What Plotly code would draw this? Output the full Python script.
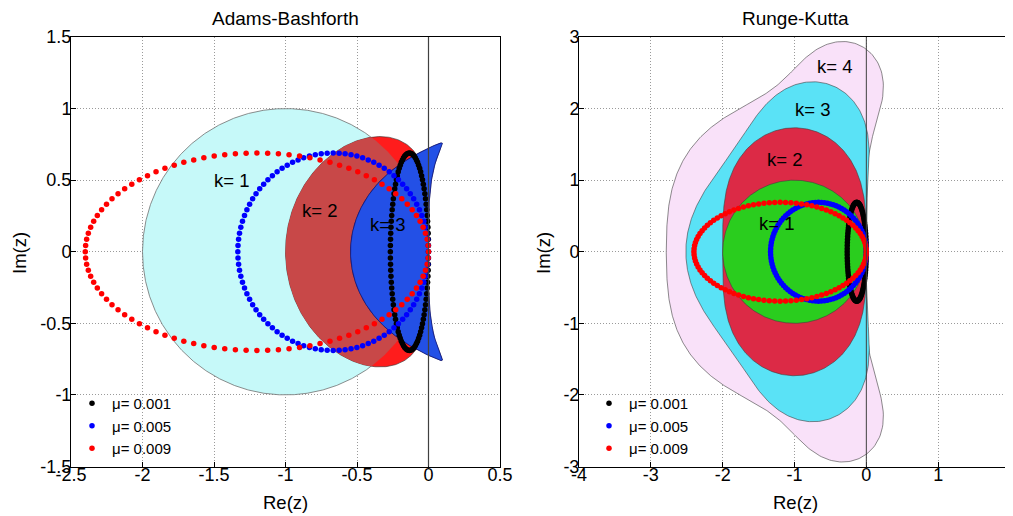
import numpy as np
import plotly.graph_objects as go

# ---------------- data ----------------
mu_values = [0.001, 0.005, 0.009]
mu_labels = ["μ= 0.001", "μ= 0.005", "μ= 0.009"]
dt_over_h2 = 66.67          # time step / h^2
cfl_number = 0.69           # c * dt / h
n_modes = 100               # Fourier modes of the grid

ab1_beta = [1.0]
ab2_beta = [1.5, -0.5]
ab3_beta = [23 / 12, -16 / 12, 5 / 12]
ab_labels = ["k= 1", "k= 2", "k= 3"]

rk_orders = [4, 3, 2, 1]
rk_labels = ["k= 4", "k= 3", "k= 2", "k= 1"]

ab_xticks = [-2.5, -2, -1.5, -1, -0.5, 0, 0.5]
ab_xtick_text = ["-2.5", "-2", "-1.5", "-1", "-0.5", "0", "0.5"]
ab_yticks = [-1.5, -1, -0.5, 0, 0.5, 1, 1.5]
ab_ytick_text = ["-1.5", "-1", "-0.5", "0", "0.5", "1", "1.5"]
rk_xticks = [-4, -3, -2, -1, 0, 1, 2]
rk_xtick_text = ["-4", "-3", "-2", "-1", "0", "1", "2"]
rk_yticks = [-3, -2, -1, 0, 1, 2, 3]
rk_ytick_text = ["-3", "-2", "-1", "0", "1", "2", "3"]

# ---------------- styles ----------------
mu_colors = ["#000000", "#0000ff", "#ff0000"]
ab1_color = "#c6f9f9"
ab2_color = "#ff1c1c"
ab2_overlap_color = "#c84848"
ab3_locus_color = "#1a1ae8"
ab3_main_color = "#2350e6"
rk_colors = {4: "#f9e1f9", 3: "#5ae2f6", 2: "#dc2a46", 1: "#2acd1e"}
FONT = "Liberation Sans, Arial, sans-serif"

# page is offset by the 8px body margin of the browser
W, H, OFF = 1005, 508, 8


def px_x(p):
    return (p - OFF) / W


def px_y(p):
    return (H - (p - OFF)) / H


# ---------------- helpers ----------------
def ab_inside(z, beta):
    z = np.asarray(z)
    shp = z.shape
    zf = z.ravel()
    k = len(beta)
    M = np.zeros((zf.size, k, k), dtype=complex)
    M[:, 0, 0] = 1 + zf * beta[0]
    for j in range(1, k):
        M[:, 0, j] = zf * beta[j]
        M[:, j, j - 1] = 1
    ev = np.linalg.eigvals(M)
    return (np.abs(ev).max(axis=1) <= 1 + 1e-9).reshape(shp)


def rk_inside(z, k):
    R = np.zeros_like(z, dtype=complex)
    term = np.ones_like(z, dtype=complex)
    for j in range(k + 1):
        if j > 0:
            term = term * z / j
        R = R + term
    return np.abs(R) <= 1 + 1e-12


def radial_boundary(inside, cx, rmax, n_ang=541, n_r=400, iters=40):
    phi = np.linspace(0, 2 * np.pi, n_ang)
    u = np.exp(1j * phi)
    r = np.linspace(0, rmax, n_r)
    ins = inside(cx + r[None, :] * u[:, None])
    out = ~ins
    out[:, 0] = False
    has = out.any(axis=1)
    idx = np.where(has, out.argmax(axis=1), n_r - 1)
    lo = r[np.maximum(idx - 1, 0)]
    hi = r[idx]
    for _ in range(iters):
        mid = 0.5 * (lo + hi)
        m = inside(cx + mid * u)
        lo = np.where(m, mid, lo)
        hi = np.where(m, hi, mid)
    return lo, u


def ab_locus(beta, n=1201):
    k = len(beta)
    zeta = np.exp(1j * np.linspace(0, 2 * np.pi, n))
    rho = zeta ** k - zeta ** (k - 1)
    sigma = sum(b * zeta ** (k - 1 - j) for j, b in enumerate(beta))
    return rho / sigma


def fill_trace(z, color, xa, ya, line_color="#303030", lw=0.6):
    return go.Scatter(x=z.real, y=z.imag, mode="lines", fill="toself",
                      fillcolor=color, line=dict(color=line_color, width=lw),
                      showlegend=False, hoverinfo="skip", xaxis=xa, yaxis=ya)


fig = go.Figure()

# ---------------- Adams-Bashforth ----------------
z_ab1 = ab_locus(ab1_beta)
fig.add_trace(fill_trace(z_ab1, ab1_color, "x", "y", "#707070", 0.8))

c2 = -0.5
r2, u2 = radial_boundary(lambda z: ab_inside(z, ab2_beta), c2, 1.2)
r1, _ = radial_boundary(lambda z: ab_inside(z, ab1_beta), c2, 1.2)
z_ab2 = c2 + r2 * u2
z_int = c2 + np.minimum(r1, r2) * u2
fig.add_trace(fill_trace(z_ab2, ab2_color, "x", "y", "#303030", 0.6))
fig.add_trace(fill_trace(z_int, ab2_overlap_color, "x", "y", ab2_overlap_color, 0))

z_ab3 = ab_locus(ab3_beta)
fig.add_trace(fill_trace(z_ab3, ab3_locus_color, "x", "y", "#101060", 0.6))
c3 = -0.25
r3, u3 = radial_boundary(lambda z: ab_inside(z, ab3_beta), c3, 1.0)
z_ab3_main = c3 + r3 * u3
fig.add_trace(fill_trace(z_ab3_main, ab3_main_color, "x", "y", "#101060", 0.6))

# ---------------- Runge-Kutta ----------------
for k in rk_orders:
    rk_r, rk_u = radial_boundary(lambda z, k=k: rk_inside(z, k), -1.0, 3.5,
                                 n_ang=721, n_r=700)
    z_rk = -1.0 + rk_r * rk_u
    fig.add_trace(fill_trace(z_rk, rk_colors[k], "x2", "y2", "#404040", 0.6))

# ---------------- eigenvalue ellipses ----------------
theta = 2 * np.pi * np.arange(n_modes) / n_modes
for mu, lab, col in zip(mu_values, mu_labels, mu_colors):
    lam = dt_over_h2 * mu * (2 * np.cos(theta) - 2) + 1j * cfl_number * np.sin(theta)
    for xa, ya, lg in (("x", "y", "legend"), ("x2", "y2", "legend2")):
        fig.add_trace(go.Scatter(x=lam.real, y=lam.imag, mode="markers", name=lab,
                                 marker=dict(color=col, size=5.5, line=dict(width=0)),
                                 xaxis=xa, yaxis=ya, legend=lg, hoverinfo="skip"))

# ---------------- layout ----------------
ydom = [px_y(466.5), px_y(37)]
axis_common = dict(showline=True, mirror=True, linecolor="black", linewidth=1,
                   ticks="inside", ticklen=5, tickcolor="black",
                   showgrid=True, gridcolor="#9a9a9a", griddash="1px,2px", gridwidth=1,
                   zeroline=False, tickfont=dict(family=FONT, size=18, color="black"),
                   fixedrange=True, automargin=False, ticklabeloverflow="allow")
xaxis_extra = dict(ticklabelstandoff=-8)
yaxis_extra = dict(ticklabelstandoff=-5)

fig.update_layout(
    width=W, height=H, autosize=False,
    margin=dict(l=0, r=0, t=0, b=0, pad=0, autoexpand=False),
    paper_bgcolor="white", plot_bgcolor="white",
    xaxis=dict(domain=[px_x(71), px_x(500)], range=[-2.5, 0.5], tickvals=ab_xticks,
               ticktext=ab_xtick_text, anchor="y", **axis_common, **xaxis_extra),
    yaxis=dict(domain=ydom, range=[-1.5, 1.5], tickvals=ab_yticks,
               ticktext=ab_ytick_text, anchor="x", **axis_common, **yaxis_extra),
    xaxis2=dict(domain=[px_x(579), px_x(1010)], range=[-4, 2], tickvals=rk_xticks,
                ticktext=rk_xtick_text, anchor="y2", **axis_common, **xaxis_extra),
    yaxis2=dict(domain=ydom, range=[-3, 3], tickvals=rk_yticks,
                ticktext=rk_ytick_text, anchor="x2", **axis_common, **yaxis_extra),
    legend=dict(x=px_x(72), y=px_y(387), xanchor="left", yanchor="top",
                bgcolor="rgba(0,0,0,0)", font=dict(family=FONT, size=15, color="black")),
    legend2=dict(x=px_x(589), y=px_y(387), xanchor="left", yanchor="top",
                 bgcolor="rgba(0,0,0,0)", font=dict(family=FONT, size=15, color="black")),
    showlegend=True,
)

fig.add_vline(x=0, line=dict(color="#404040", width=1.2), layer="above", xref="x", yref="y")
fig.add_shape(type="line", x0=0, x1=0, y0=0, y1=1, xref="x2", yref="y2 domain",
              line=dict(color="#404040", width=1.0), layer="above")

ann_font = dict(family=FONT, size=18.5, color="black")


def paper_ann(text, px, py, size=18.5, angle=0):
    return dict(text=text, x=px_x(px), y=px_y(py), xref="paper", yref="paper",
                xanchor="center", yanchor="middle", textangle=angle,
                showarrow=False, font=dict(family=FONT, size=size, color="black"))


annotations = [
    paper_ann("Adams-Bashforth", 285, 19, 19),
    paper_ann("Runge-Kutta", 795, 19, 19),
    paper_ann("Re(z)", 285, 502),
    paper_ann("Re(z)", 795, 502),
    paper_ann("Im(z)", 19, 253, angle=-90),
    paper_ann("Im(z)", 543, 253, angle=-90),
]
ab_label_pos = [(-1.38, 0.50), (-0.76, 0.29), (-0.29, 0.19)]
for lab, (lx, ly) in zip(ab_labels, ab_label_pos):
    annotations.append(dict(text=lab, x=lx, y=ly, xref="x", yref="y",
                            xanchor="center", yanchor="middle",
                            showarrow=False, font=ann_font))
rk_label_pos = [(-0.44, 2.59), (-0.75, 1.99), (-1.14, 1.29), (-1.25, 0.40)]
for lab, (lx, ly) in zip(rk_labels, rk_label_pos):
    annotations.append(dict(text=lab, x=lx, y=ly, xref="x2", yref="y2",
                            xanchor="center", yanchor="middle",
                            showarrow=False, font=ann_font))
fig.update_layout(annotations=annotations)

fig.write_html("out.html")
